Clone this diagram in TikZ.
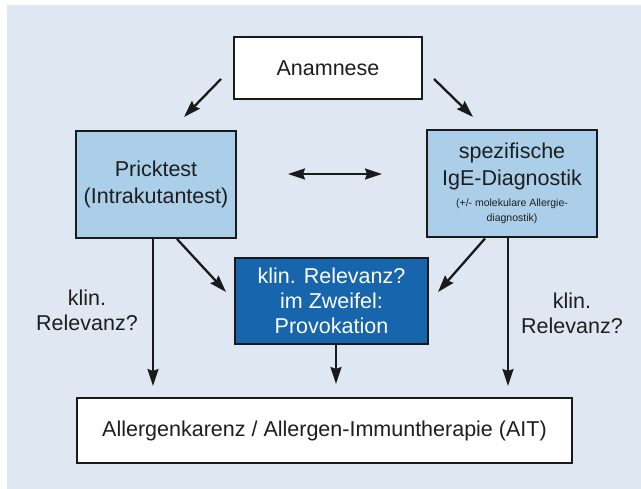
\documentclass[tikz,border=0pt]{standalone}
\usepackage{fontspec}
\setmainfont{Liberation Sans}
\usetikzlibrary{arrows.meta,calc}
\definecolor{bgblue}{HTML}{DFE8F2}
\definecolor{lightbox}{HTML}{ABCFE9}
\definecolor{darkbox}{HTML}{1766AD}
\definecolor{edge}{HTML}{1A1A1A}
\definecolor{txt}{HTML}{1E1E1E}
\tikzset{
  box/.style={draw=edge, line width=2pt, inner sep=0pt, align=center, text=txt,
    font=\fontsize{21.5}{27}\selectfont},
  arr/.style={draw=edge, line width=2.3pt,
    -{Stealth[length=17pt,width=11pt,inset=2pt]}},
  darr/.style={draw=edge, line width=2.3pt,
    {Stealth[length=17pt,width=11pt,inset=2pt]}-{Stealth[length=17pt,width=11pt,inset=2pt]}},
  lbl/.style={align=center, text=txt, inner sep=0pt, font=\fontsize{21.5}{25}\selectfont}
}
\begin{document}
\begin{tikzpicture}[x=1pt,y=-1pt]
\useasboundingbox (0,0) rectangle (641,489);
\fill[bgblue] (7,5) rectangle (641,489);
\node[box, fill=white, minimum width=188pt, minimum height=62pt] (anam) at (328,68) {Anamnese};
\node[box, fill=lightbox, minimum width=160pt, minimum height=107pt] (prick) at (156,184.5) {Pricktest\\(Intrakutantest)};
\node[box, fill=lightbox, minimum width=170pt, minimum height=107pt] (ige) at (512,183.5)
  {\fontsize{21.5}{23}\selectfont spezifische\\IgE-Diagnostik\\[-6pt]{\fontsize{10.5}{11}\selectfont (+/- molekulare Allergie-}\\[-12pt]{\fontsize{10.5}{11}\selectfont diagnostik)}};
\node[box, fill=darkbox, text=white, minimum width=193pt, minimum height=86pt, font=\fontsize{21.5}{25}\selectfont] (prov) at (331.5,301) {klin. Relevanz?\\im Zweifel:\\Provokation};
\node[box, fill=white, minimum width=495pt, minimum height=65pt] (bot) at (324.5,430.5) {Allergenkarenz / Allergen-Immuntherapie (AIT)};
\node[lbl] (l1) at (87,310) {klin.\\Relevanz?};
\node[lbl] (l2) at (572,313) {klin.\\Relevanz?};
% arrows
\draw[arr] ($(anam.west)+(-12,11)$) -- ($(prick.north)+(28,-13)$);
\draw[arr] ($(anam.east)+(11,11)$) -- ($(ige.north)+(-39,-12)$);
\draw[darr] ($(prick.east)+(51,-10.5)$) -- ($(ige.west)+(-44,-9.5)$);
\draw[arr] ($(prick.south)+(21,0)$) -- ($(prov.west)+(-8,-9)$);
\draw[arr] ($(ige.south)+(-27,0.5)$) -- ($(prov.east)+(9,-9)$);
\draw[arr] ($(prick.south)+(-3,0)$) -- ($(prick.south |- bot.north)+(-3,-11)$);
\draw[arr] ($(prov.south)+(4.5,0)$) -- ($(prov.south |- bot.north)+(4.5,-13)$);
\draw[arr] ($(ige.south)+(-4,0)$) -- ($(ige.south |- bot.north)+(-4,-11)$);
\end{tikzpicture}
\end{document}
